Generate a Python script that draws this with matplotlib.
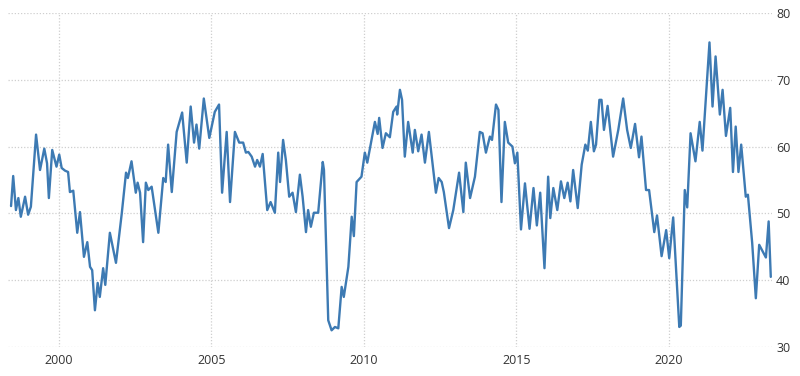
import matplotlib
matplotlib.use("Agg")
import matplotlib.pyplot as plt

# Decimal-year dates and index values
dates = [
    1998.43, 1998.50, 1998.59, 1998.67, 1998.75, 1998.89, 1998.99, 1999.08, 1999.25, 1999.38,
    1999.52, 1999.61, 1999.67, 1999.78, 1999.92, 2000.01, 2000.09, 2000.20, 2000.30, 2000.36,
    2000.47, 2000.60, 2000.69, 2000.82, 2000.93, 2001.02, 2001.09, 2001.18, 2001.27, 2001.34,
    2001.45, 2001.52, 2001.67, 2001.87, 2002.06, 2002.20, 2002.26, 2002.38, 2002.52, 2002.58,
    2002.66, 2002.76, 2002.85, 2002.93, 2003.04, 2003.26, 2003.42, 2003.50, 2003.58, 2003.70,
    2003.86, 2004.04, 2004.19, 2004.32, 2004.43, 2004.51, 2004.60, 2004.75, 2004.93, 2005.11,
    2005.25, 2005.35, 2005.50, 2005.61, 2005.77, 2005.91, 2006.04, 2006.13, 2006.21, 2006.32,
    2006.43, 2006.50, 2006.59, 2006.68, 2006.83, 2006.94, 2007.08, 2007.19, 2007.25, 2007.35,
    2007.44, 2007.55, 2007.66, 2007.77, 2007.90, 2007.99, 2008.10, 2008.17, 2008.26, 2008.36,
    2008.50, 2008.65, 2008.69, 2008.83, 2008.94, 2009.05, 2009.16, 2009.27, 2009.34, 2009.49,
    2009.60, 2009.67, 2009.76, 2009.92, 2010.03, 2010.11, 2010.25, 2010.36, 2010.45, 2010.50,
    2010.61, 2010.72, 2010.85, 2010.96, 2011.07, 2011.09, 2011.18, 2011.25, 2011.34, 2011.45,
    2011.60, 2011.67, 2011.78, 2011.89, 2012.00, 2012.13, 2012.36, 2012.45, 2012.55, 2012.62,
    2012.79, 2012.93, 2013.12, 2013.26, 2013.34, 2013.48, 2013.64, 2013.80, 2013.89, 2014.00,
    2014.13, 2014.20, 2014.33, 2014.41, 2014.51, 2014.62, 2014.73, 2014.87, 2014.95, 2015.03,
    2015.15, 2015.28, 2015.43, 2015.56, 2015.67, 2015.78, 2015.92, 2016.04, 2016.11, 2016.21,
    2016.34, 2016.46, 2016.57, 2016.68, 2016.77, 2016.86, 2017.01, 2017.14, 2017.26, 2017.34,
    2017.44, 2017.54, 2017.61, 2017.72, 2017.79, 2017.87, 2017.99, 2018.17, 2018.34, 2018.50,
    2018.63, 2018.75, 2018.89, 2019.02, 2019.10, 2019.25, 2019.35, 2019.52, 2019.61, 2019.76,
    2019.91, 2020.01, 2020.14, 2020.34, 2020.39, 2020.52, 2020.60, 2020.71, 2020.87, 2021.01,
    2021.10, 2021.33, 2021.43, 2021.53, 2021.67, 2021.76, 2021.87, 2022.01, 2022.10, 2022.19,
    2022.28, 2022.37, 2022.52, 2022.59, 2022.73, 2022.85, 2022.96, 2023.18, 2023.27, 2023.34,
]
values = [
    51.1, 55.6, 50.5, 52.3, 49.5, 52.5, 49.8, 51.0, 61.8, 56.5,
    59.7, 57.5, 52.3, 59.5, 57.0, 58.8, 56.8, 56.4, 56.2, 53.2,
    53.4, 47.1, 50.2, 43.5, 45.7, 42.0, 41.5, 35.5, 39.6, 37.5,
    41.8, 39.3, 47.1, 42.6, 50.0, 56.1, 55.3, 57.8, 53.1, 54.6,
    53.1, 45.7, 54.6, 53.5, 54.0, 47.1, 55.3, 54.7, 60.3, 53.2,
    62.2, 65.1, 57.6, 66.0, 60.6, 63.3, 59.7, 67.2, 61.3, 65.2,
    66.3, 53.1, 62.2, 51.7, 62.2, 60.6, 60.6, 59.1, 59.2, 58.5,
    57.0, 58.0, 57.0, 58.9, 50.5, 51.7, 50.1, 59.1, 54.7, 61.0,
    58.0, 52.5, 53.1, 50.2, 55.8, 52.5, 47.2, 50.5, 48.0, 50.1,
    50.1, 57.7, 56.5, 34.0, 32.5, 33.0, 32.8, 39.0, 37.5, 42.0,
    49.5, 46.6, 54.7, 55.5, 59.1, 57.6, 61.0, 63.7, 61.9, 64.3,
    59.8, 62.0, 61.4, 65.2, 66.0, 64.8, 68.5, 67.0, 58.5, 63.7,
    59.1, 62.5, 59.3, 61.8, 57.6, 62.2, 53.1, 55.3, 54.7, 53.2,
    47.8, 50.5, 56.1, 50.2, 57.6, 52.3, 55.5, 62.2, 62.0, 59.1,
    61.5, 61.0, 66.3, 65.5, 51.7, 63.7, 60.6, 60.0, 57.5, 59.1,
    47.6, 54.5, 47.7, 53.8, 48.2, 53.1, 41.8, 55.5, 49.3, 53.8,
    50.5, 54.8, 52.3, 54.6, 51.8, 56.5, 50.8, 57.3, 60.3, 59.4,
    63.7, 59.3, 60.3, 67.0, 67.0, 62.5, 66.1, 58.5, 62.5, 67.2,
    62.5, 59.8, 63.4, 58.4, 61.5, 53.5, 53.5, 47.2, 49.7, 43.6,
    47.5, 43.3, 49.4, 33.0, 33.2, 53.5, 50.9, 62.0, 57.8, 63.7,
    59.4, 75.6, 66.0, 73.5, 64.8, 68.5, 61.6, 65.8, 56.2, 63.0,
    56.2, 60.3, 52.5, 52.8, 45.6, 37.3, 45.3, 43.4, 48.8, 40.5,
]
x_ticks = [2000, 2005, 2010, 2015, 2020]
y_ticks = [30, 40, 50, 60, 70, 80]

plt.rcParams['font.family'] = ['Open Sans', 'DejaVu Sans']

fig = plt.figure(figsize=(8.0, 3.76), dpi=100)
ax = fig.add_axes([0.01, 0.0771, 0.955, 0.8883])

ax.plot(dates, values, color='#3d7ab3', linewidth=1.7,
        solid_joinstyle='round', solid_capstyle='round')

ax.set_xlim(1998.33, 2023.38)
ax.set_ylim(30, 80)
ax.set_xticks(x_ticks)
ax.set_xticklabels([str(t) for t in x_ticks])
ax.set_yticks(y_ticks)
ax.yaxis.tick_right()

for s in ax.spines.values():
    s.set_visible(False)

ax.grid(True, color='#cfcfcf', linestyle=(0, (1, 1.5)), linewidth=0.9)
ax.set_axisbelow(True)
ax.tick_params(axis='both', length=0, labelsize=9, colors='#333333')
ax.tick_params(axis='x', pad=5)
ax.tick_params(axis='y', pad=3)

fig.savefig('out.png', dpi=100)
